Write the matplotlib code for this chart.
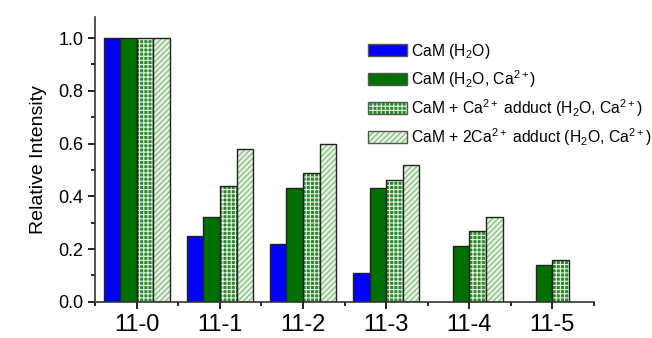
import numpy as np
import matplotlib
matplotlib.use("Agg")
import matplotlib.pyplot as plt
import matplotlib.patches as mpatches
from matplotlib.legend_handler import HandlerTuple
from matplotlib.ticker import MultipleLocator

plt.rcParams['font.family'] = ['Liberation Sans', 'DejaVu Sans']
plt.rcParams['mathtext.fontset'] = 'custom'
plt.rcParams['mathtext.rm'] = 'Liberation Sans'
plt.rcParams['mathtext.it'] = 'Liberation Sans:italic'
plt.rcParams['hatch.linewidth'] = 0.8

# data
groups = ['11-0', '11-1', '11-2', '11-3', '11-4', '11-5']
cam_h2o = [1.0, 0.25, 0.22, 0.11, 0.0, 0.0]
cam_h2o_ca = [1.0, 0.32, 0.43, 0.43, 0.21, 0.14]
cam_ca_adduct = [1.0, 0.44, 0.49, 0.46, 0.27, 0.16]
cam_2ca_adduct = [1.0, 0.58, 0.60, 0.52, 0.32, 0.0]

labels = ['CaM (H$_2$O)',
          'CaM (H$_2$O, Ca$^{2+}$)',
          'CaM + Ca$^{2+}$ adduct (H$_2$O, Ca$^{2+}$)',
          'CaM + 2Ca$^{2+}$ adduct (H$_2$O, Ca$^{2+}$)']

# face colour, hatch colour, hatch pattern
styles = [('#0000ff', '#0000ff', None),
          ('#007000', '#007000', None),
          ('#2a8a2a', '#e6f4e6', '++++'),
          ('#e4f3de', '#7cb67c', '//////')]

fig = plt.figure(figsize=(6.52, 3.38), dpi=100)
ax = fig.add_axes([0.146, 0.107, 0.765, 0.843])

x = np.arange(len(groups))
w = 0.2
series = [cam_h2o, cam_h2o_ca, cam_ca_adduct, cam_2ca_adduct]
handles = []
for i, (vals, (fc, hc, hatch)) in enumerate(zip(series, styles)):
    pos = x + (i - 1.5) * w
    vals = np.array(vals)
    mask = vals > 0
    ax.bar(pos[mask], vals[mask], w, facecolor=fc, edgecolor=hc, hatch=hatch, linewidth=0)
    ax.bar(pos[mask], vals[mask], w, fill=False, edgecolor='#222222', linewidth=1.0)
    p1 = mpatches.Patch(facecolor=fc, edgecolor=hc, hatch=hatch, linewidth=0)
    p2 = mpatches.Patch(fill=False, edgecolor='#555555', linewidth=1.0)
    handles.append((p1, p2))

ax.set_xlim(-0.5, 5.5)
ax.set_ylim(0, 1.08)
ax.set_xticks(x)
ax.set_xticklabels(groups, fontsize=17)
ax.xaxis.set_minor_locator(MultipleLocator(1, offset=0.5))
ax.yaxis.set_minor_locator(MultipleLocator(0.1))
ax.set_yticks(np.arange(0, 1.01, 0.2))
ax.set_yticklabels(['%.1f' % v for v in np.arange(0, 1.01, 0.2)], fontsize=13)
ax.tick_params(axis='both', which='major', direction='out', length=5, width=1.2)
ax.tick_params(axis='both', which='minor', direction='out', length=3, width=1.2)
ax.tick_params(axis='x', pad=4)
ax.set_ylabel('Relative Intensity', fontsize=14, labelpad=8)

for s in ['top', 'right']:
    ax.spines[s].set_visible(False)
for s in ['left', 'bottom']:
    ax.spines[s].set_linewidth(1.2)
    ax.spines[s].set_color('#333333')

ax.legend(handles, labels, handler_map={tuple: HandlerTuple(ndivide=1, pad=0)},
          loc='upper left', bbox_to_anchor=(0.535, 0.935), frameon=False,
          fontsize=11.3, handlelength=2.45, handleheight=0.8, labelspacing=0.47,
          handletextpad=0.3, borderaxespad=0)

fig.savefig('out.png', dpi=100)
